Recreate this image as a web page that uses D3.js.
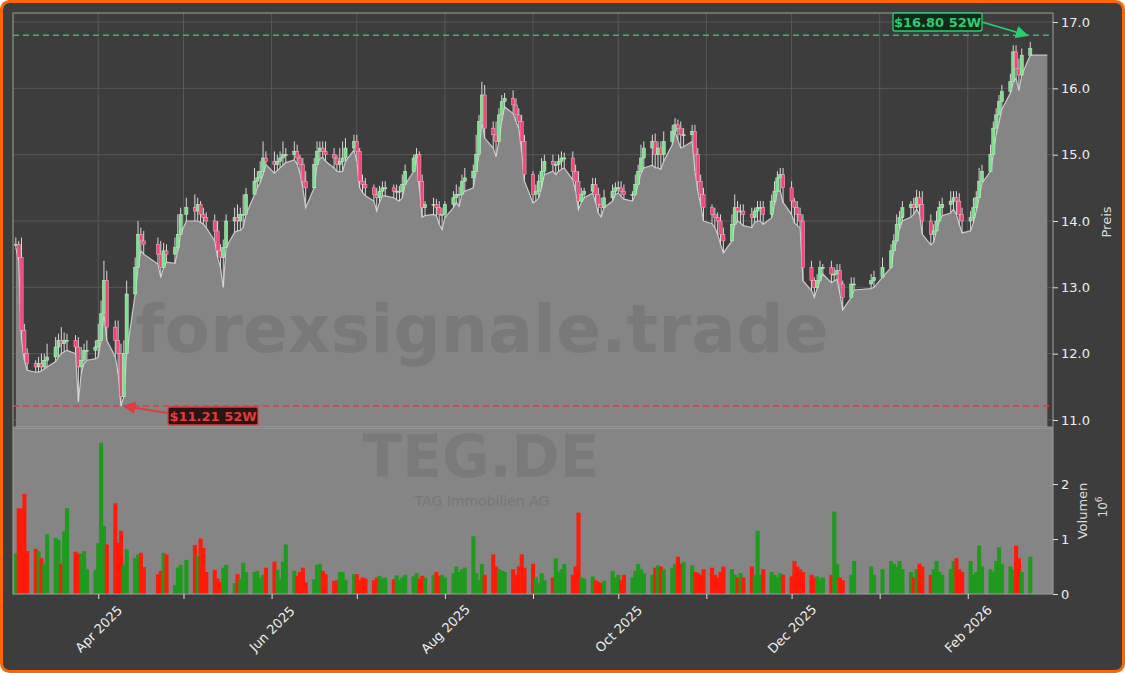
<!DOCTYPE html>
<html><head><meta charset="utf-8">
<script src="https://cdn.jsdelivr.net/npm/d3@7"></script>
<style>body{margin:0;background:#fff}svg{display:block}text{font-family:"DejaVu Sans",sans-serif}</style>
</head><body><svg id="c" width="1125" height="673"></svg>
<script>
const startDate = "2025-03-03";
const holidays = ["2025-04-18","2025-04-21","2025-05-01","2025-12-24","2025-12-25","2025-12-26","2025-12-31","2026-01-01"];
const lows = [13.6,13.4,12.2,11.9,11.75,11.72,11.72,11.74,11.77,11.8,
11.88,11.95,12.0,12.03,12.05,12.0,11.27,11.7,11.85,11.9,
11.92,11.95,12.3,12.6,12.2,11.95,11.7,11.21,11.8,12.6,
12.95,13.5,13.55,13.5,13.35,13.15,13.4,13.38,13.36,13.55,
13.85,14.0,14.0,14.0,13.98,13.95,13.9,13.7,13.45,13.3,
13.0,13.8,13.83,13.85,13.86,13.9,14.2,14.4,14.5,14.58,
14.7,14.85,14.72,14.76,14.8,14.84,14.88,14.92,14.86,14.72,
14.5,14.2,14.5,14.85,14.94,14.96,14.9,14.8,14.75,14.74,
14.75,14.9,15.07,14.9,14.5,14.43,14.38,14.3,14.15,14.28,
14.38,14.38,14.35,14.32,14.3,14.35,14.55,14.8,14.95,14.5,
14.06,14.08,14.1,14.08,13.95,13.87,14.05,14.2,14.28,14.22,
14.4,14.45,14.5,14.75,15.2,15.5,15.25,15.1,14.97,15.25,
15.5,15.72,15.62,15.5,15.4,15.05,14.6,14.27,14.3,14.35,
14.5,14.7,14.75,14.7,14.75,14.78,14.8,14.62,14.45,14.17,
14.28,14.35,14.42,14.28,14.12,14.06,14.2,14.3,14.4,14.42,
14.37,14.33,14.3,14.4,14.55,14.72,14.8,14.84,14.8,14.8,
14.78,14.9,15.15,15.37,15.22,15.1,15.12,15.2,14.75,14.45,
14.25,14.0,13.96,13.9,13.8,13.65,13.52,13.8,14.05,14.0,
13.97,13.93,13.9,13.98,14.0,14.0,13.95,14.05,14.25,14.45,
14.45,14.28,14.1,13.97,13.93,13.9,13.1,12.95,12.85,12.98,
13.15,13.2,13.07,13.1,13.12,12.9,12.66,12.92,12.96,12.98,
13.0,13.2,13.38,13.55,13.72,13.88,14.0,14.06,14.1,14.18,
14.1,13.8,13.64,13.68,13.85,14.02,14.08,14.12,14.18,14.1,
13.95,13.82,13.85,13.98,14.15,14.35,14.57,14.85,15.1,15.3,
15.48,15.68,15.93,16.1,16.15,15.97,16.25,16.53];
const closes = [13.65,13.45,12.35,12.0,11.85,11.8,11.85,11.8,11.9,11.95,
12.1,12.2,12.15,12.2,12.2,12.1,11.8,11.9,12.05,12.05,
12.1,12.2,12.6,13.1,12.4,12.2,12.0,11.35,12.0,12.9,
13.3,13.8,13.7,13.65,13.5,13.3,13.55,13.5,13.6,13.8,
14.1,14.2,14.15,14.25,14.1,14.05,14.0,13.85,13.55,13.45,
13.6,14.0,14.05,14.0,14.1,14.1,14.4,14.6,14.65,14.75,
14.95,14.9,14.85,14.9,14.95,15.0,15.0,15.05,14.95,14.85,
14.6,14.5,14.85,15.05,15.1,15.05,15.0,14.95,14.85,14.9,
14.95,15.1,15.2,15.05,14.6,14.55,14.5,14.4,14.35,14.45,
14.5,14.5,14.45,14.45,14.45,14.55,14.75,14.95,15.0,14.6,
14.2,14.25,14.25,14.2,14.1,14.1,14.25,14.35,14.4,14.4,
14.6,14.65,14.75,15.0,15.5,15.9,15.4,15.3,15.2,15.6,
15.8,15.85,15.75,15.6,15.5,15.2,14.7,14.4,14.45,14.6,
14.75,14.9,14.85,14.85,14.9,14.95,14.95,14.75,14.6,14.3,
14.4,14.45,14.55,14.4,14.25,14.2,14.35,14.45,14.5,14.5,
14.45,14.4,14.4,14.55,14.75,14.95,15.1,15.2,15.0,15.1,
15.0,15.2,15.35,15.45,15.4,15.3,15.3,15.35,15.0,14.6,
14.4,14.2,14.1,14.05,14.0,13.8,13.7,13.95,14.2,14.15,
14.15,14.1,14.05,14.15,14.2,14.2,14.1,14.3,14.45,14.65,
14.7,14.5,14.3,14.2,14.1,14.0,13.3,13.1,13.0,13.1,
13.3,13.3,13.2,13.2,13.25,13.05,12.85,13.05,13.05,13.1,
13.15,13.3,13.55,13.7,13.95,14.05,14.2,14.25,14.2,14.35,
14.25,14.0,13.8,13.85,14.0,14.2,14.25,14.3,14.35,14.3,
14.1,14.0,14.05,14.2,14.35,14.6,14.75,15.0,15.4,15.6,
15.8,15.95,16.1,16.55,16.3,16.2,16.5,16.6];
const upperWicks = [.1,.05,.3,.1,.08,.05,.1,.15,.1,.2,.15,.1,.2,.12,.1,.08,.15,.2,.1,.15,.1,.25,.2,.3,.15,.1,.3,.15,.2,.2,.15,.2,.1,.15,.1,.2,.12,.1,.15,.3,.1,.15,.2,.1,.05,.1,.08,.1,.15,.1,.12,.1,.15,.2,.1,.3,.1,.2,.1,.15,.25,.1,.15,.1,.1,.2,.1,.15,.1,.05,.1,.15,.1,.15,.1,.1,.15,.1,.05,.2,.25,.15,.1,.1,.05,.1,.1,.05,.1,.08,.1,.1,.05,.1,.08,.15,.1,.05,.1,.05,.1,.05,.1,.08,.1,.1,.05,.1,.15,.12,.1,.15,.1,.3,.1,.2,.15,.1,.2,.1,.1,.08,.12,.1,.1,.1,.1,.05,.1,.1,.2,.1,.1,.05,.1,.1,.08,.1,.1,.15,.1,.05,.1,.1,.1,.1,.12,.1,.08,.1,.1,.1,.05,.15,.1,.2,.1,.1,.12,.1,.1,.15,.1,.1,.08,.1,.1,.1,.1,.1,.1,.1,.05,.1,.08,.1,.1,.15,.2,.1,.1,.1,.1,.05,.1,.1,.1,.1,.15,.1,.1,.1,.1,.05,.1,.1,.1,.1,.05,.1,.1,.05,.1,.1,.1,.1,.05,.1,.1,.1,.1,.15,.1,.1,.15,.1,.1,.05,.1,.12,.1,.2,.1,.1,.15,.1,.1,.15,.1,.1,.12,.1,.1,.15,.1,.2,.1,.15,.1,.1,.1,.1,.12,.1,.1,.15,.1,.1,.05,.1,.1,.1,.08,.1,.1,.1,.1,.2];
const volumes = [0.74,1.56,1.55,1.82,0.78,0.82,0.78,0.65,0.55,1.09,
1.02,0.98,0.55,1.14,1.56,0.77,0.73,0.74,0.78,0.45,
0.44,0.93,2.75,1.24,0.9,1.65,0.93,1.15,0.53,0.81,
0.66,0.72,0.75,0.49,0.36,0.42,0.75,0.72,0.16,0.48,
0.53,0.62,0.89,0.69,1.01,0.84,0.4,0.44,0.28,0.22,
0.48,0.53,0.2,0.36,0.27,0.57,0.4,0.4,0.42,0.29,
0.35,0.48,0.59,0.44,0.27,0.59,0.9,0.42,0.33,0.4,
0.48,0.21,0.27,0.53,0.55,0.42,0.36,0.24,0.25,0.4,
0.4,0.26,0.36,0.36,0.25,0.3,0.28,0.25,0.3,0.33,
0.28,0.3,0.27,0.34,0.25,0.3,0.35,0.32,0.38,0.28,
0.33,0.3,0.35,0.4,0.33,0.35,0.3,0.38,0.5,0.4,
0.45,0.48,1.05,0.38,0.25,0.55,0.35,0.72,0.5,0.45,
0.42,0.4,0.45,0.35,0.5,0.72,0.48,0.55,0.3,0.2,
0.38,0.25,0.3,0.65,0.4,0.45,0.55,0.35,0.5,1.48,
0.3,0.28,0.32,0.25,0.22,0.2,0.24,0.42,0.3,0.35,
0.25,0.35,0.3,0.42,0.55,0.45,0.38,0.35,0.48,0.52,
0.5,0.45,0.48,0.55,0.68,0.55,0.58,0.52,0.4,0.38,
0.35,0.45,0.48,0.35,0.3,0.4,0.5,0.45,0.35,0.3,
0.38,0.3,0.5,0.35,1.15,0.35,0.45,0.4,0.35,0.3,
0.38,0.35,0.32,0.6,0.5,0.45,0.4,0.35,0.3,0.32,
0.28,0.3,0.35,1.5,0.55,0.3,0.25,0.35,0.6,0.5,
0.35,0.45,0.6,0.55,0.5,0.6,0.45,0.4,0.3,0.45,
0.55,0.5,0.35,0.45,0.6,0.4,0.35,0.45,0.6,0.65,
0.45,0.4,0.6,0.35,0.4,0.88,0.5,0.45,0.4,0.6,
0.85,0.55,0.5,0.45,0.88,0.65,0.4,0.68];
const priceTicks = [11,12,13,14,15,16,17];
const volTicks = [0,1,2];
const high52 = 16.80, low52 = 11.21;
const high52Label = "$16.80 52W", low52Label = "$11.21 52W";
const ticker = "TEG.DE", company = "TAG Immobilien AG", watermark = "forexsignale.trade";
const areaEndDate = "2026-03-01";

const hol = new Set(holidays);
const dates = [];
let d = new Date(startDate + "T00:00:00");
while (dates.length < closes.length) {
  const k = d3.timeFormat("%Y-%m-%d")(d);
  if (d.getDay() !== 0 && d.getDay() !== 6 && !hol.has(k)) dates.push(new Date(d));
  d = d3.timeDay.offset(d, 1);
}
const data = closes.map((c, i) => {
  const o = i === 0 ? lows[0] + 0.05 : closes[i - 1];
  return {date: dates[i], open: o, close: c, low: Math.min(lows[i], o, c),
          high: Math.max(o, c) + (upperWicks[i] ?? 0.1), vol: volumes[i]};
});

const svg = d3.select("#c");
const L = 13, R = 1053, PT = 13, PB = 427, VT = 428, VB = 594;
svg.append("rect").attr("x",1.5).attr("y",1.5).attr("width",1122).attr("height",670).attr("rx",8)
  .attr("fill","#3d3d3d").attr("stroke","#ff6600").attr("stroke-width",3);

const x = d3.scaleTime().domain([new Date("2025-03-02T00:00:00"), new Date("2026-03-03T00:00:00")]).range([L, R]);
const y = d3.scaleLinear().domain([10.894, 17.136]).range([PB, PT]);
const yv = d3.scaleLinear().domain([0, 3.02]).range([VB, VT]);
const months = d3.timeMonth.range(new Date("2025-04-01T00:00:00"), new Date("2026-03-01T00:00:00"));

const g = svg.append("g");
g.selectAll(".hg").data(priceTicks).join("line").attr("x1",L).attr("x2",R)
  .attr("y1",v=>y(v)).attr("y2",v=>y(v)).attr("stroke","#5e5e5e").attr("stroke-width",0.8);
g.selectAll(".vg").data(months).join("line").attr("x1",m=>x(m)).attr("x2",m=>x(m))
  .attr("y1",PT).attr("y2",PB).attr("stroke","#5e5e5e").attr("stroke-width",0.8);

const areaData = data.map(p => ({date: p.date, v: p.low}));
areaData.push({date: new Date(areaEndDate + "T00:00:00"), v: data[data.length-1].low});
svg.append("path").datum(areaData)
  .attr("d", d3.area().x(p=>x(p.date)).y0(PB).y1(p=>y(p.v)))
  .attr("fill","#858585");
svg.append("path").datum(areaData)
  .attr("d", d3.line().x(p=>x(p.date)).y(p=>y(p.v)))
  .attr("fill","none").attr("stroke","#c9c9c9").attr("stroke-width",1.2);

svg.append("text").attr("x",482).attr("y",352).attr("text-anchor","middle")
  .attr("font-size",66).attr("font-weight","bold").attr("fill","#6a6a6a").attr("fill-opacity",0.45)
  .attr("textLength",693).text(watermark);

const cg = svg.append("g");
data.forEach(p => {
  const up = p.close >= p.open;
  const cx = x(p.date);
  cg.append("line").attr("x1",cx).attr("x2",cx).attr("y1",y(p.high)).attr("y2",y(p.low))
    .attr("stroke","#d8d8d8").attr("stroke-width",1);
  const top = y(Math.max(p.open,p.close)), bot = y(Math.min(p.open,p.close));
  cg.append("rect").attr("x",cx-1.6).attr("width",3.2).attr("y",top).attr("height",Math.max(1,bot-top))
    .attr("fill", up ? "#7ee08e" : "#f0467a").attr("stroke", up ? "#c8f0cc" : "#ffb0c4").attr("stroke-width",0.5);
});

svg.append("line").attr("x1",L).attr("x2",R).attr("y1",y(high52)).attr("y2",y(high52))
  .attr("stroke","#2ebd66").attr("stroke-width",1.5).attr("stroke-dasharray","6,4");
svg.append("line").attr("x1",L).attr("x2",R).attr("y1",y(low52)).attr("y2",y(low52))
  .attr("stroke","#e03c3c").attr("stroke-width",1.5).attr("stroke-dasharray","6,4");

svg.append("rect").attr("x",L).attr("y",PT).attr("width",R-L).attr("height",PB-PT)
  .attr("fill","none").attr("stroke","#a0a0a0").attr("stroke-width",1);

svg.append("rect").attr("x",L).attr("y",VT).attr("width",R-L).attr("height",VB-VT).attr("fill","#858585");
svg.append("text").attr("x",481).attr("y",477).attr("text-anchor","middle").attr("font-size",58)
  .attr("font-weight","bold").attr("fill","#777").attr("fill-opacity",0.75).text(ticker);
svg.append("text").attr("x",482).attr("y",506).attr("text-anchor","middle").attr("font-size",14)
  .attr("fill","#777").text(company);
svg.append("g").selectAll("rect").data(data).join("rect")
  .attr("x",p=>x(p.date)-2).attr("width",4.1).attr("y",p=>yv(p.vol)).attr("height",p=>VB-yv(p.vol))
  .attr("fill",p=>p.close>=p.open?"#1f9a1f":"#ff1a0a");
svg.append("rect").attr("x",L).attr("y",VT).attr("width",R-L).attr("height",VB-VT)
  .attr("fill","none").attr("stroke","#a0a0a0").attr("stroke-width",1);

const ay = svg.append("g").attr("transform",`translate(${R},0)`)
  .call(d3.axisRight(y).tickValues(priceTicks).tickFormat(d3.format(".1f")).tickSize(5));
const avy = svg.append("g").attr("transform",`translate(${R},0)`)
  .call(d3.axisRight(yv).tickValues(volTicks).tickFormat(d3.format("d")).tickSize(5));
const ax = svg.append("g").attr("transform",`translate(0,${VB})`)
  .call(d3.axisBottom(x).tickValues(months).tickSize(5)
    .tickFormat(m => m.getMonth() % 2 === 1 ? d3.timeFormat("%b %Y")(m) : ""));
ax.selectAll("text").attr("x",0).attr("y",0).attr("dy","0.35em")
  .attr("transform","translate(0,35) rotate(-45)").attr("text-anchor","middle");
[ay, avy, ax].forEach(a => {
  a.select(".domain").remove();
  a.selectAll("line").attr("stroke","#e0e0e0");
  a.selectAll("text").attr("fill","#eeeeee").attr("font-size",13).attr("font-family","DejaVu Sans");
});
svg.append("text").attr("transform","translate(1111,222) rotate(-90)").attr("text-anchor","middle")
  .attr("fill","#dddddd").attr("font-size",13).text("Preis");
svg.append("text").attr("transform","translate(1087,511) rotate(-90)").attr("text-anchor","middle")
  .attr("fill","#dddddd").attr("font-size",13).text("Volumen");
const pw = svg.append("text").attr("transform","translate(1107,507) rotate(-90)").attr("text-anchor","middle")
  .attr("fill","#dddddd").attr("font-size",12);
pw.append("tspan").text("10");
pw.append("tspan").attr("dy",-5).attr("font-size",9).text("6");

const defs = svg.append("defs");
[["ag","#2ecc71"],["ar","#e03c3c"]].forEach(([id,c]) => {
  defs.append("marker").attr("id",id).attr("viewBox","0 0 10 10").attr("refX",9).attr("refY",5)
    .attr("markerWidth",7).attr("markerHeight",7).attr("orient","auto")
    .append("path").attr("d","M0,0 L10,5 L0,10 z").attr("fill",c);
});
const hiIdx = d3.maxIndex(data, p=>p.high), loIdx = d3.minIndex(data, p=>p.low);
svg.append("line").attr("x1",982).attr("y1",22).attr("x2",x(data[hiIdx].date)-3).attr("y2",y(high52))
  .attr("stroke","#2ecc71").attr("stroke-width",1.8).attr("marker-end","url(#ag)");
svg.append("rect").attr("x",893).attr("y",13).attr("width",89).attr("height",18).attr("rx",2)
  .attr("fill","#0f2a18").attr("stroke","#2ecc71").attr("stroke-width",1.3);
svg.append("text").attr("x",937.5).attr("y",26.5).attr("text-anchor","middle").attr("font-size",13)
  .attr("font-weight","bold").attr("fill","#2ecc71").text(high52Label);
svg.append("line").attr("x1",168).attr("y1",413).attr("x2",x(data[loIdx].date)+3).attr("y2",y(low52))
  .attr("stroke","#e03c3c").attr("stroke-width",1.8).attr("marker-end","url(#ar)");
svg.append("rect").attr("x",168).attr("y",407).attr("width",90).attr("height",18).attr("rx",2)
  .attr("fill","#2a1414").attr("stroke","#e03c3c").attr("stroke-width",1.3);
svg.append("text").attr("x",213).attr("y",420.5).attr("text-anchor","middle").attr("font-size",13)
  .attr("font-weight","bold").attr("fill","#e03c3c").text(low52Label);
</script></body></html>
